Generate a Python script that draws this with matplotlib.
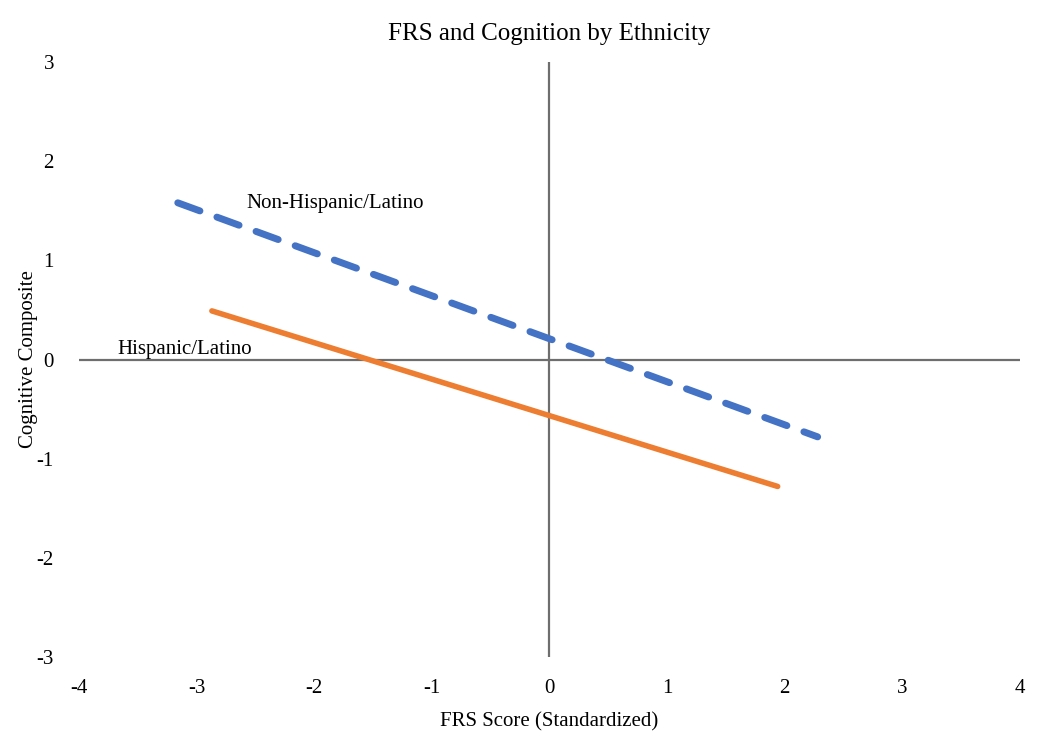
import matplotlib
matplotlib.use("Agg")
from matplotlib import pyplot as plt
import numpy as np

# line endpoints (FRS score, cognitive composite)
non_hisp_x = [-3.16, 2.28]
non_hisp_y = [1.58, -0.78]
hisp_x = [-2.87, 1.94]
hisp_y = [0.49, -1.28]

x_ticks = [-4, -3, -2, -1, 0, 1, 2, 3, 4]
y_ticks = [-3, -2, -1, 0, 1, 2, 3]

plt.rcParams['font.family'] = ['Liberation Serif', 'DejaVu Serif']
plt.rcParams['axes.unicode_minus'] = False

fig = plt.figure(figsize=(10.5, 7.43), dpi=100)
ax = fig.add_axes([0.0752, 0.1157, 0.8962, 0.8009])

ax.axhline(0, color='#6e6e6e', linewidth=1.6, zorder=1)
ax.axvline(0, color='#6e6e6e', linewidth=1.6, zorder=1)

ax.plot(non_hisp_x, non_hisp_y, color='#4472c4', linewidth=5, linestyle=(0, (3.4, 2.6)),
        solid_capstyle='round', dash_capstyle='round', zorder=3)
ax.plot(hisp_x, hisp_y, color='#ed7d31', linewidth=4, solid_capstyle='round', zorder=3)

ax.text(-2.58, 1.57, 'Non-Hispanic/Latino', fontsize=15, va='center', ha='left')
ax.text(-3.67, 0.10, 'Hispanic/Latino', fontsize=15, va='center', ha='left')

ax.set_xlim(-4, 4)
ax.set_ylim(-3, 3)
ax.set_xticks(x_ticks)
ax.set_yticks(y_ticks)
ax.tick_params(length=0, labelsize=15)
ax.tick_params(axis='x', pad=16)
ax.tick_params(axis='y', pad=18)
for s in ax.spines.values():
    s.set_visible(False)

ax.set_xlabel('FRS Score (Standardized)', fontsize=15, labelpad=10)
ax.set_ylabel('Cognitive Composite', fontsize=15)
ax.yaxis.set_label_coords(-0.043, 0.5)
ax.set_title('FRS and Cognition by Ethnicity', fontsize=18, pad=16)

fig.savefig('out.png', dpi=100)
